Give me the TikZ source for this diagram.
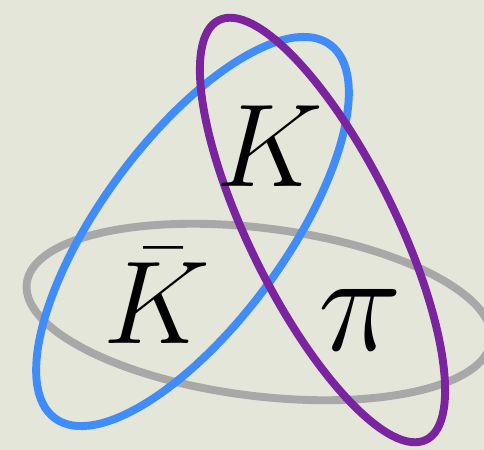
\documentclass[tikz,border=0pt]{standalone}
\definecolor{paperbg}{RGB}{229,230,218}
\definecolor{kaonblue}{RGB}{64,140,250}
\definecolor{kaonpurple}{RGB}{123,36,160}
\definecolor{piongray}{RGB}{168,168,168}
\tikzset{
  ring/.style={line width=4.5pt},
  particle/.style={font=\Huge, scale=2.7, inner sep=0pt}
}
\begin{document}
\begin{tikzpicture}[x=0.02cm,y=0.02cm]
    \clip (0,0) rectangle (484,450);
    \fill[paperbg] (0,0) rectangle (484,450);

    % the three pairs
    \draw[ring, piongray] (259,138) ellipse [x radius=234, y radius=84, rotate=-7.1];
    \draw[ring, kaonblue] (192.5,218.5) ellipse [x radius=232, y radius=92, rotate=53.6];
    \draw[ring, kaonpurple] (322.5,220) ellipse [x radius=234, y radius=73, rotate=-63.7];

    \node[particle] (kaon) at (270,304) {$K$};
    \node[particle] (antikaon) at (157,154) {$\bar{K}$};
    \node[particle, scale=1.2] (pion) at (360,130) {$\pi$};
\end{tikzpicture}
\end{document}
